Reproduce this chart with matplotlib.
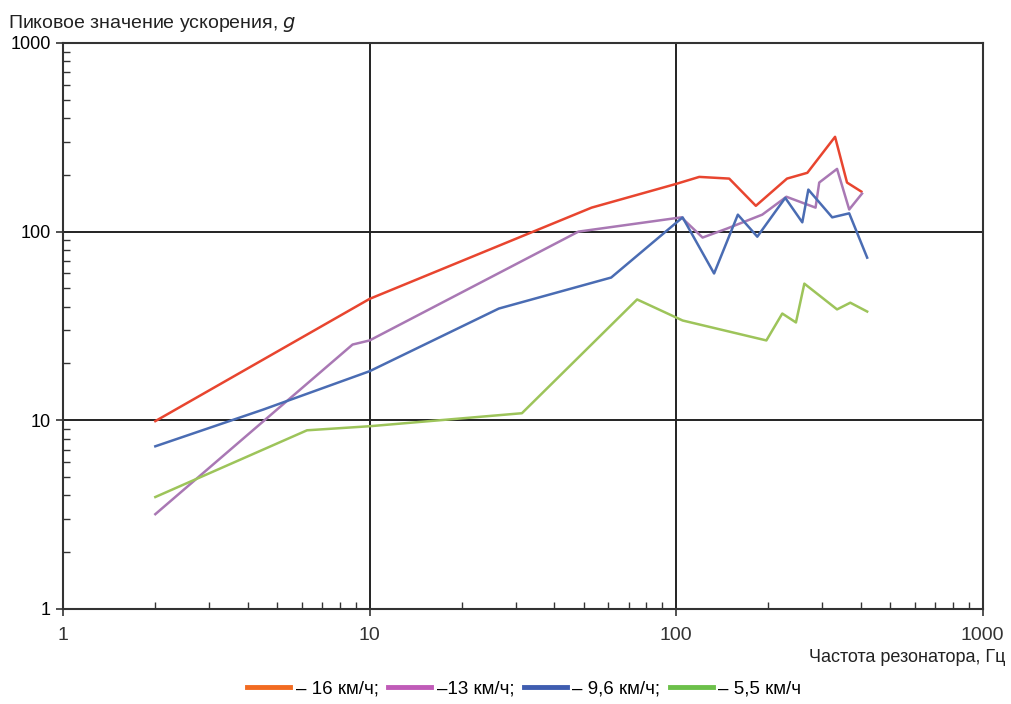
import matplotlib.pyplot as plt
from matplotlib.lines import Line2D
from matplotlib.ticker import LogLocator, NullFormatter, FixedLocator, FixedFormatter

plt.rcParams['font.family'] = ['Liberation Sans', 'DejaVu Sans']

# 16 km/h
f16 = [2, 10, 53, 100, 119, 149, 182, 230, 268, 330, 361, 402]
a16 = [9.9, 44, 134, 179, 195, 191, 137, 191, 205, 318, 182, 163]
# 13 km/h
f13 = [2, 8.8, 10, 48, 104, 122, 147, 191, 229, 285, 293, 335, 367, 404]
a13 = [3.18, 25.2, 26.5, 100, 119, 93, 104, 123, 153, 134, 182, 215, 131, 159]
# 9.6 km/h
f96 = [2, 4.5, 10, 26.4, 61.4, 105, 133, 159, 184, 227, 258, 270, 323, 367, 420]
a96 = [7.28, 11.4, 18.2, 39.1, 57.1, 119, 60, 123, 94, 151, 112, 167, 119, 125, 72.8]
# 5.5 km/h
f55 = [2, 6.25, 10, 31.4, 74.6, 105, 197, 222, 246, 262, 335, 370, 420]
a55 = [3.92, 8.85, 9.3, 10.9, 43.7, 33.8, 26.5, 36.8, 33, 53, 38.7, 42, 37.7]

labels = ['– 16 км/ч;', '–13 км/ч;', '– 9,6 км/ч;', '– 5,5 км/ч']
line_colors = ['#e8452f', '#a978b4', '#4a6cb3', '#9dc45a']
legend_colors = ['#f26b21', '#c05bb8', '#3f5db0', '#6cc04a']

fig = plt.figure(figsize=(10.12, 7.04), dpi=100)
ax = fig.add_axes([0.0623, 0.135, 0.9087, 0.804])

for (f, a), c in zip([(f16, a16), (f13, a13), (f96, a96), (f55, a55)], line_colors):
    ax.plot(f, a, color=c, lw=1.8, zorder=3)

ax.set_xscale('log')
ax.set_yscale('log')
ax.set_xlim(1, 1000)
ax.set_ylim(1, 1000)

ax.xaxis.set_major_locator(FixedLocator([1, 10, 100, 1000]))
ax.xaxis.set_major_formatter(FixedFormatter(['1', '10', '100', '1000']))
ax.yaxis.set_major_locator(FixedLocator([1, 10, 100, 1000]))
ax.yaxis.set_major_formatter(FixedFormatter(['1', '10', '100', '1000']))
ax.xaxis.set_minor_locator(LogLocator(base=10, subs=range(2, 10)))
ax.yaxis.set_minor_locator(LogLocator(base=10, subs=range(2, 10)))
ax.xaxis.set_minor_formatter(NullFormatter())
ax.yaxis.set_minor_formatter(NullFormatter())

ax.tick_params(which='major', direction='out', length=5, width=1.2, color='#333333',
               labelsize=13, pad=4)
ax.tick_params(which='minor', direction='in', length=5, width=1.0, color='#333333')
ax.tick_params(axis='x', which='major', pad=8, labelcolor='#333333', labelsize=14)

ax.grid(True, which='major', color='#222222', lw=1.4, zorder=1)
for s in ax.spines.values():
    s.set_color('#333333')
    s.set_linewidth(1.5)

fig.text(0.008, 0.967, 'Пиковое значение ускорения, $g$', fontsize=14, ha='left', va='center',
         color='#222222')
fig.text(0.993, 0.066, 'Частота резонатора, Гц', fontsize=13, ha='right', va='center',
         color='#222222')

handles = [Line2D([], [], color=c, lw=3.5) for c in legend_colors]
leg = fig.legend(handles, labels, loc='center', bbox_to_anchor=(0.518, 0.021), ncol=4,
                 frameon=False, handlelength=2.3, handletextpad=0.3, columnspacing=0.5,
                 prop={'size': 13.5})

fig.savefig('out.png', dpi=100)
